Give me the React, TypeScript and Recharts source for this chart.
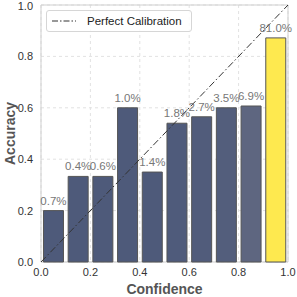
import React from 'react';
import {
  ComposedChart, Bar, XAxis, YAxis, CartesianGrid, ReferenceLine, ReferenceArea,
  LabelList, Cell,
} from 'recharts';

const binCenters = [0.05, 0.15, 0.25, 0.35, 0.45, 0.55, 0.65, 0.75, 0.85, 0.95];
const accuracy = [0.2, 0.333, 0.333, 0.6, 0.35, 0.54, 0.565, 0.6, 0.607, 0.872];
const share = ['0.7', '0.4', '0.6', '1.0', '1.4', '1.8', '2.7', '3.5', '6.9', '81.0'];
const barColors = ['#4e5a7a', '#4e5a7a', '#4e5a7a', '#4e5a7a', '#4e5a7a', '#4f5b7b', '#515c7b', '#535e7c', '#5e6680', '#fee94f'];
const ticks = [0, 0.2, 0.4, 0.6, 0.8, 1.0];

const data = binCenters.map((x, i) => ({ x, acc: accuracy[i], pct: share[i] }));

const FONT = '"Liberation Sans", Arial, sans-serif';

const LegendBox = () => (
  <div style={{
    position: 'absolute', left: 46, top: 10, display: 'flex', alignItems: 'center',
    border: '1px solid #d6d6d6', borderRadius: 3, background: 'rgba(255,255,255,0.85)',
    padding: '3px 9px 3px 4px', fontFamily: FONT, fontSize: 11.5, color: '#222',
    whiteSpace: 'nowrap', height: 14,
  }}>
    <svg width={26} height={10} style={{ marginRight: 10 }}>
      <line x1={1} y1={5} x2={25} y2={5} stroke="#333" strokeWidth={1.2} strokeDasharray="6 2 1.5 2" />
    </svg>
    Perfect Calibration
  </div>
);

const YLabel = (props: any) => {
  const vb = props.viewBox || { x: 0, y: 0, width: 41, height: 257 };
  const cx = vb.x + 10;
  const cy = vb.y + vb.height / 2;
  return (
    <text x={cx} y={cy} transform={`rotate(-90 ${cx} ${cy})`} textAnchor="middle" dominantBaseline="central"
      fill="#555" fontSize={14} fontWeight="bold" fontFamily={FONT}>Accuracy</text>
  );
};

export default function App() {
  return (
    <div style={{ position: 'absolute', left: 0, top: 0, background: '#fff', width: 297, height: 297 }}>
      <ComposedChart width={297} height={297} data={data}
        margin={{ top: 5, right: 9, left: 0, bottom: 0 }}>
        <CartesianGrid stroke="#e2e2e2" strokeDasharray="3 3" />
        <XAxis dataKey="x" type="number" domain={[0, 1]} ticks={ticks}
          tickFormatter={(v: number) => v.toFixed(1)} axisLine={false} tickLine={false}
          tick={{ fontSize: 11, fill: '#333', fontFamily: FONT }} height={35} tickMargin={0}
          label={{ value: 'Confidence', position: 'insideBottom', offset: 3, fill: '#555', fontSize: 14, fontWeight: 'bold', fontFamily: FONT }} />
        <YAxis type="number" domain={[0, 1]} ticks={ticks}
          tickFormatter={(v: number) => v.toFixed(1)} axisLine={false} tickLine={false}
          tick={{ fontSize: 11, fill: '#333', fontFamily: FONT }} width={41} tickMargin={2}
          label={<YLabel />} />
        <ReferenceArea x1={0} x2={1} y1={0} y2={1} fill="none" stroke="#cfcfcf" strokeWidth={1} ifOverflow="visible" />
        <Bar dataKey="acc" stroke="#555" strokeWidth={1} isAnimationActive={false}>
          {data.map((_, i) => <Cell key={i} fill={barColors[i]} />)}
          <LabelList dataKey="pct" position="top" offset={6}
            formatter={(v: any) => `${v}%`}
            style={{ fill: '#777', fontSize: 11.5, fontFamily: FONT }} />
        </Bar>
        <ReferenceLine segment={[{ x: 0, y: 0 }, { x: 1, y: 1 }]} stroke="#333" strokeWidth={1}
          strokeDasharray="7 2.5 1.5 2.5" ifOverflow="visible" />
      </ComposedChart>
      <LegendBox />
    </div>
  );
}
